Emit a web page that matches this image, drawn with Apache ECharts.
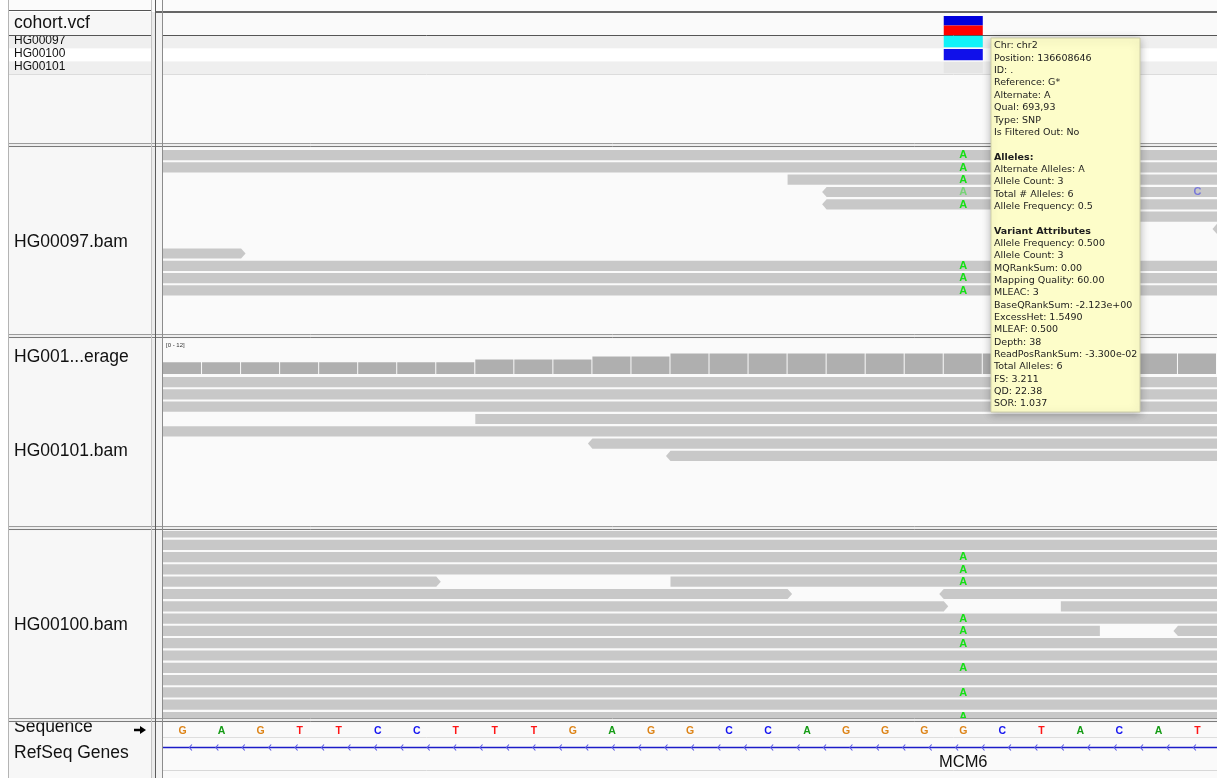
<!DOCTYPE html>
<html><head><meta charset="utf-8">
<script src="https://cdn.jsdelivr.net/npm/echarts@6/dist/echarts.min.js"></script>
<style>html,body{margin:0;padding:0;background:#fff;overflow:hidden}#c{width:1217px;height:778px;}</style>
</head><body><div id="c"></div>
<script>
// ---------------- DATA ----------------
const START = 136608626;            // genomic position of first visible base
const VIEW_BASES = 27;
const refSeq = ['G','A','G','T','T','C','C','T','T','T','G','A','G','G','C','C','A','G','G','G','G','C','T','A','C','A','T'];
const variantPos = 136608646;
const variantAF = 0.5;
const sampleNames = ['HG00097','HG00100','HG00101'];
const genotypes = ['HOM_VAR','HET','HOM_REF'];

// reads: [start, end, row, strand]
const readsHG00097 = [
  [136608540,136608690,0,1],[136608545,136608695,1,-1],[136608642,136608792,2,1],
  [136608643,136608793,3,-1],[136608643,136608793,4,-1],[136608649,136608799,5,1],
  [136608653,136608803,6,-1],[136608478,136608628,8,1],[136608550,136608700,9,1],
  [136608552,136608702,10,-1],[136608560,136608710,11,1]
];
// mismatches: [position, row, base, quality(0..1)]
const mismatchesHG00097 = [
  [136608646,0,'A',1],[136608646,1,'A',1],[136608646,2,'A',1],[136608646,3,'A',0.3],
  [136608646,4,'A',1],[136608646,9,'A',1],[136608646,10,'A',1],[136608646,11,'A',1],
  [136608652,3,'C',0.3]
];
const coverageHG00101 = [4,4,4,4,4,4,4,4,5,5,5,6,6,7,7,7,7,7,7,7,7,7,7,7,7,7,7];
const coverageRange = [0, 12];
const readsHG00101 = [
  [136608540,136608690,0,1],[136608545,136608695,1,-1],[136608550,136608700,2,1],
  [136608634,136608784,3,1],[136608560,136608710,4,-1],[136608637,136608787,5,-1],
  [136608639,136608789,6,-1]
];
const readsHG00100 = [
  [136608530,136608680,0,1],[136608535,136608685,1,-1],[136608540,136608690,2,1],
  [136608545,136608695,3,-1],[136608483,136608633,4,1],[136608639,136608789,4,1],
  [136608492,136608642,5,1],[136608646,136608796,5,-1],[136608496,136608646,6,1],
  [136608649,136608799,6,1],[136608550,136608700,7,1],[136608500,136608650,8,-1],
  [136608652,136608802,8,-1],[136608555,136608705,9,-1],[136608560,136608710,10,1],
  [136608565,136608715,11,-1],[136608570,136608720,12,1],[136608575,136608725,13,-1],
  [136608580,136608730,14,1],[136608585,136608735,15,-1]
];
const mismatchesHG00100 = [
  [136608646,2,'A',1],[136608646,3,'A',1],[136608646,4,'A',1],[136608646,7,'A',1],
  [136608646,8,'A',1],[136608646,9,'A',1],[136608646,11,'A',1],[136608646,13,'A',1],
  [136608646,15,'A',1]
];
const geneName = 'MCM6';
const geneSpan = [136597196, 136634047];
const geneStrand = -1;
const geneLabelPos = 136608646.5;
const trackNames = ['cohort.vcf','HG00097.bam','HG001...erage','HG00101.bam','HG00100.bam','Sequence','RefSeq Genes'];
const tooltipLines = [
  'Chr: chr2','Position: 136608646','ID: .','Reference: G*','Alternate: A','Qual: 693,93','Type: SNP','Is Filtered Out: No','',
  '*Alleles:','Alternate Alleles: A','Allele Count: 3','Total # Alleles: 6','Allele Frequency: 0.5','',
  '*Variant Attributes','Allele Frequency: 0.500','Allele Count: 3','MQRankSum: 0.00','Mapping Quality: 60.00','MLEAC: 3',
  'BaseQRankSum: -2.123e+00','ExcessHet: 1.5490','MLEAF: 0.500','Depth: 38','ReadPosRankSum: -3.300e-02','Total Alleles: 6',
  'FS: 3.211','QD: 22.38','SOR: 1.037'
];

// ---------------- STYLE ----------------
const ROW = 12.3;
const READ_COLOR = '#c8c8c8';
const baseColors = {A:'#169c16', C:'#1515f0', G:'#dd8418', T:'#ff1515'};
const mmColors = {A:'#14e014', C:'#1515f0', G:'#dd8418', T:'#ff1515'};
const gtColors = {HOM_VAR:'#12f2f8', HET:'#1010ea', HOM_REF:'#e5e5e5'};
const FONT = '"Liberation Sans", Arial, sans-serif';

const chart = echarts.init(document.getElementById('c'), null, {renderer:'canvas'});

function clamp(v, a, b){ return Math.max(a, Math.min(b, v)); }

function readsRender(reads){
  return function(params, api){
    const r = reads[params.dataIndex];
    const cs = params.coordSys;
    const p0 = api.coord([r[0], r[2]]);
    const x0 = p0[0], x1 = api.coord([r[1], r[2]])[0];
    const ph = api.size([0,1])[1];
    const t = p0[1], b = t + ph - 2.1, m = (t + b) / 2;
    let pts = r[3] > 0
      ? [[x0,t],[x1,t],[x1+4.5,m],[x1,b],[x0,b]]
      : [[x0-4.5,m],[x0,t],[x1,t],[x1,b],[x0,b]];
    pts = pts.map(p => [clamp(p[0], cs.x, cs.x + cs.width), clamp(p[1], cs.y, cs.y + cs.height)]);
    return {type:'polygon', shape:{points:pts}, style:{fill:READ_COLOR}};
  };
}
function mismatchRender(mm){
  return function(params, api){
    const d = mm[params.dataIndex];
    const p = api.coord([d[0] + 0.5, d[1]]);
    const ph = api.size([0,1])[1];
    return {type:'text', style:{text:d[2], x:p[0], y:p[1] + (ph - 2.1)/2 + 0.3,
      textAlign:'center', textVerticalAlign:'middle', align:'center', verticalAlign:'middle',
      font:'bold 11px ' + FONT, fill:mmColors[d[2]], opacity: d[3] < 1 ? 0.45 : 1}};
  };
}

const grids = [
  {top:16, height:19},      // 0 variant band
  {top:36, height:39},      // 1 genotypes
  {top:147, height:187},    // 2 HG00097 reads
  {top:339, height:35},     // 3 coverage
  {top:377, height:149},    // 4 HG00101 reads
  {top:531, height:187},    // 5 HG00100 reads
  {top:722, height:16},     // 6 sequence
  {top:738, height:32}      // 7 genes
].map(g => Object.assign({left:163, right:0, containLabel:false}, g));

const yAxes = [
  {min:0, max:1},
  {min:0, max:3, inverse:true},
  {min:-3/ROW, max:-3/ROW + 187/ROW, inverse:true},
  {min:coverageRange[0], max:coverageRange[1]},
  {min:0, max:149/ROW, inverse:true},
  {min:3.6/ROW, max:3.6/ROW + 187/ROW, inverse:true},
  {min:0, max:1, inverse:true},
  {min:0, max:1, inverse:true}
].map((y,i) => Object.assign({type:'value', gridIndex:i, show:false}, y));

const xAxes = grids.map((g,i) => ({type:'value', gridIndex:i, min:START, max:START + VIEW_BASES, show:false}));

const series = [
  { // variant site band
    type:'custom', xAxisIndex:0, yAxisIndex:0, data:[[variantPos, variantAF]],
    renderItem(params, api){
      const cs = params.coordSys;
      const x0 = api.coord([api.value(0), 0])[0], x1 = api.coord([api.value(0)+1, 0])[0];
      const af = api.value(1);
      const hRed = cs.height * af;
      return {type:'group', children:[
        {type:'rect', shape:{x:x0, y:cs.y, width:x1-x0, height:cs.height - hRed}, style:{fill:'#0000dd'}},
        {type:'rect', shape:{x:x0, y:cs.y + cs.height - hRed, width:x1-x0, height:hRed}, style:{fill:'#ff0000'}}
      ]};
    }
  },
  { // genotypes
    type:'custom', xAxisIndex:1, yAxisIndex:1, data:sampleNames.map((n,i) => [variantPos, i]),
    renderItem(params, api){
      const p = api.coord([api.value(0), api.value(1)]);
      const x1 = api.coord([api.value(0)+1, 0])[0];
      const ph = api.size([0,1])[1];
      return {type:'rect', shape:{x:p[0], y:p[1], width:x1-p[0], height:ph-1.7},
        style:{fill:gtColors[genotypes[params.dataIndex]]}};
    }
  },
  {type:'custom', xAxisIndex:2, yAxisIndex:2, data:readsHG00097, renderItem:readsRender(readsHG00097), clip:true},
  {type:'custom', xAxisIndex:2, yAxisIndex:2, data:mismatchesHG00097.map(d => [d[0], d[1]]), renderItem:mismatchRender(mismatchesHG00097), clip:true},
  { // coverage
    type:'custom', xAxisIndex:3, yAxisIndex:3, data:coverageHG00101.map((c,i) => [START + i, c]),
    renderItem(params, api){
      const p = api.coord([api.value(0), api.value(1)]);
      const base = api.coord([api.value(0), 0]);
      const x1 = api.coord([api.value(0)+1, 0])[0];
      return {type:'rect', shape:{x:p[0], y:p[1], width:x1-p[0]-1, height:base[1]-p[1]}, style:{fill:'#afafaf'}};
    }
  },
  {type:'custom', xAxisIndex:4, yAxisIndex:4, data:readsHG00101, renderItem:readsRender(readsHG00101), clip:true},
  {type:'custom', xAxisIndex:5, yAxisIndex:5, data:readsHG00100, renderItem:readsRender(readsHG00100), clip:true},
  {type:'custom', xAxisIndex:5, yAxisIndex:5, data:mismatchesHG00100.map(d => [d[0], d[1]]), renderItem:mismatchRender(mismatchesHG00100), clip:true},
  { // reference sequence
    type:'custom', xAxisIndex:6, yAxisIndex:6, data:refSeq.map((b,i) => [START + i + 0.5, 0.5]),
    renderItem(params, api){
      const p = api.coord([api.value(0), api.value(1)]);
      const b = refSeq[params.dataIndex];
      return {type:'text', style:{text:b, x:p[0], y:p[1] + 0.8, textAlign:'center', textVerticalAlign:'middle',
        align:'center', verticalAlign:'middle', font:'bold 10.5px ' + FONT, fill:baseColors[b]}};
    }
  },
  { // gene
    type:'custom', xAxisIndex:7, yAxisIndex:7, data:[[geneSpan[0], geneSpan[1], geneLabelPos]],
    renderItem(params, api){
      const cs = params.coordSys;
      const x0 = clamp(api.coord([api.value(0), 0])[0], cs.x, cs.x + cs.width);
      const x1 = clamp(api.coord([api.value(1), 0])[0], cs.x, cs.x + cs.width);
      const y = cs.y + 9.5;
      const kids = [{type:'line', shape:{x1:x0, y1:y, x2:x1, y2:y}, style:{stroke:'#1c1cc8', lineWidth:1.3}}];
      for (let x = x0 + 26.4; x < x1; x += 26.42) {
        const d = geneStrand < 0 ? 1 : -1;
        kids.push({type:'polyline', shape:{points:[[x + 2.5*d, y - 3],[x, y],[x + 2.5*d, y + 3]]},
          style:{stroke:'#5c5ce4', lineWidth:1.1, fill:null}});
      }
      const lx = api.coord([api.value(2), 0])[0];
      kids.push({type:'text', style:{text:geneName, x:lx, y:cs.y + 24.5, textAlign:'center', textVerticalAlign:'middle',
        align:'center', verticalAlign:'middle', font:'16.5px ' + FONT, fill:'#111'}});
      return {type:'group', children:kids};
    }
  }
];

// ---------------- CHROME (panels, labels, tooltip) ----------------
const panels = [[12,143.5],[147.5,334.5],[338.5,526.5],[530.5,718.5],[722.5,778]];
const g = [];
g.push({type:'rect', z:-20, shape:{x:0,y:0,width:1217,height:778}, style:{fill:'#ffffff'}});
panels.forEach(p => {
  g.push({type:'rect', z:-19, shape:{x:8.5,y:p[0],width:143,height:p[1]-p[0]}, style:{fill:'#f7f7f7'}});
  g.push({type:'rect', z:-19, shape:{x:151.5,y:p[0],width:4,height:p[1]-p[0]}, style:{fill:'#ebebeb'}});
  g.push({type:'rect', z:-19, shape:{x:155.5,y:p[0],width:7,height:p[1]-p[0]}, style:{fill:'#f3f3f3'}});
  g.push({type:'rect', z:-19, shape:{x:163,y:p[0],width:1054,height:p[1]-p[0]}, style:{fill:'#fafafa'}});
});
// genotype stripes
[['#efefef',35.5],['#ffffff',48.5],['#efefef',61.5]].forEach(s => {
  g.push({type:'rect', z:-18, shape:{x:8.5,y:s[1],width:143,height:13}, style:{fill:s[0]}});
  g.push({type:'rect', z:-18, shape:{x:163,y:s[1],width:1054,height:13}, style:{fill:s[0]}});
});
g.push({type:'line', z:-17, shape:{x1:8.5,y1:74.5,x2:151.5,y2:74.5}, style:{stroke:'#dcdcdc',lineWidth:1}});
g.push({type:'line', z:-17, shape:{x1:163,y1:74.5,x2:1217,y2:74.5}, style:{stroke:'#dcdcdc',lineWidth:1}});
g.push({type:'line', z:50, shape:{x1:8.5,y1:35.5,x2:151.5,y2:35.5}, style:{stroke:'#555',lineWidth:1}});
g.push({type:'line', z:50, shape:{x1:163,y1:35.5,x2:1217,y2:35.5}, style:{stroke:'#555',lineWidth:1}});
// seq / gene inner lines
g.push({type:'line', z:-17, shape:{x1:163,y1:737.5,x2:1217,y2:737.5}, style:{stroke:'#dedede',lineWidth:1}});
g.push({type:'line', z:-17, shape:{x1:163,y1:770.5,x2:1217,y2:770.5}, style:{stroke:'#d8d8d8',lineWidth:1}});
// labels
const lab = (t, y, size) => g.push({type:'text', z:40, style:{text:t, x:14, y:y, font:size + 'px ' + FONT, fill:'#111',
  textVerticalAlign:'middle', verticalAlign:'middle'}});
lab(trackNames[0], 23.5, 17.5);
sampleNames.forEach((n,i) => lab(n, 41 + 13*i, 12));
lab(trackNames[1], 242, 17.5);
lab(trackNames[2], 357, 17.5);
lab(trackNames[3], 451, 17.5);
lab(trackNames[4], 625, 17.5);
lab(trackNames[5], 727.5, 17.5);
lab(trackNames[6], 753, 17.5);
g.push({type:'text', z:40, style:{text:'[' + coverageRange[0] + ' - ' + coverageRange[1] + ']', x:166, y:345.5,
  font:'6px ' + FONT, fill:'#333', textVerticalAlign:'middle', verticalAlign:'middle'}});
// sequence direction arrow
g.push({type:'polygon', z:40, shape:{points:[[134,728.7],[140,728.7],[140,726],[146,730],[140,734],[140,731.3],[134,731.3]]}, style:{fill:'#000'}});
// separators
panels.slice(0,4).forEach(p => {
  const y = p[1];
  g.push({type:'rect', z:60, shape:{x:8,y:y,width:1209,height:4}, style:{fill:'#eeeeee'}});
  g.push({type:'line', z:61, shape:{x1:8,y1:y,x2:1217,y2:y}, style:{stroke:'#9c9c9c',lineWidth:1}});
  g.push({type:'line', z:61, shape:{x1:8,y1:y+3,x2:1217,y2:y+3}, style:{stroke:'#7a7a7a',lineWidth:1}});
});
// top
g.push({type:'rect', z:60, shape:{x:8,y:0,width:1209,height:11}, style:{fill:'#fbfbfb'}});
g.push({type:'line', z:61, shape:{x1:8,y1:10.5,x2:152,y2:10.5}, style:{stroke:'#555',lineWidth:1}});
g.push({type:'line', z:61, shape:{x1:155,y1:12,x2:1217,y2:12}, style:{stroke:'#666',lineWidth:2}});
// verticals
[[8.5,'#b4b4b4'],[151.5,'#c4c4c4'],[155.5,'#5c5c5c'],[162.5,'#8c8c8c']].forEach(v => {
  g.push({type:'line', z:62, shape:{x1:v[0],y1:0,x2:v[0],y2:778}, style:{stroke:v[1],lineWidth:1}});
});
// tooltip
const TT = {x:991, y:38, w:149, h:374};
g.push({type:'rect', z:90, shape:{x:TT.x, y:TT.y, width:TT.w, height:TT.h},
  style:{fill:'#fdfdc9', stroke:'#cfcfa8', lineWidth:1, shadowBlur:8, shadowColor:'rgba(0,0,0,0.28)', shadowOffsetY:2}});
tooltipLines.forEach((t,i) => {
  if (!t) return;
  const bold = t[0] === '*';
  g.push({type:'text', z:91, style:{text: bold ? t.slice(1) : t, x:TT.x + 3, y:TT.y + 8 + i*12.34,
    font:(bold ? 'bold ' : '') + '9.5px "DejaVu Sans", sans-serif', fill:'#1c1c1c',
    textVerticalAlign:'middle', verticalAlign:'middle'}});
});

chart.setOption({
  animation:false,
  grid:grids, xAxis:xAxes, yAxis:yAxes, series:series,
  graphic:{elements:g}
});
</script></body></html>
